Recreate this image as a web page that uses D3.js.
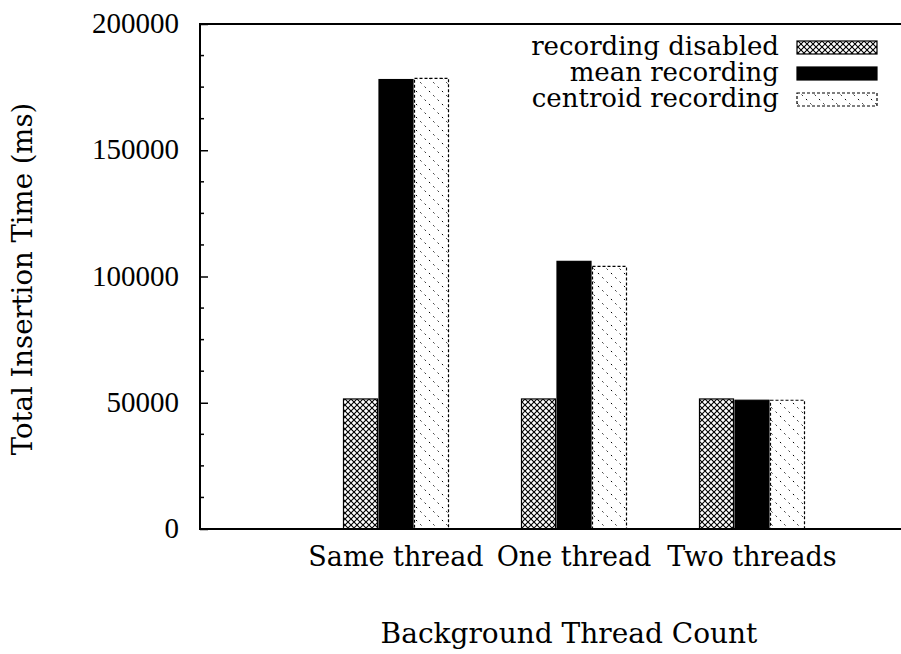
<!DOCTYPE html>
<html>
<head>
<meta charset="utf-8">
<script src="https://cdnjs.cloudflare.com/ajax/libs/d3/7.8.5/d3.min.js"></script>
<style>
  body { margin: 0; background: #fff; }
  text { font-family: "DejaVu Serif", "Liberation Serif", serif; fill: #000; }
  .num { font-family: "Liberation Serif", "DejaVu Serif", serif; }
</style>
</head>
<body>
<script>
// data
var categories = ["Same thread", "One thread", "Two threads"];
var seriesNames = ["recording disabled", "mean recording", "centroid recording"];
var disabled = [51500, 51500, 51500];
var mean = [178000, 106000, 51000];
var centroid = [178500, 104000, 51000];
var yTicks = [0, 50000, 100000, 150000, 200000];

var series = [disabled, mean, centroid];

var width = 901, height = 654;
var plotL = 200, plotR = 901, plotT = 24, plotB = 529;

var svg = d3.select("body").append("svg")
    .attr("width", width)
    .attr("height", height);

var defs = svg.append("defs");

// crosshatch pattern
var cross = defs.append("pattern")
    .attr("id", "cross")
    .attr("patternUnits", "userSpaceOnUse")
    .attr("width", 6).attr("height", 6);
cross.append("rect").attr("width", 6).attr("height", 6).attr("fill", "#fff");
cross.append("path")
    .attr("d", "M0,0L6,6M6,0L0,6")
    .attr("stroke", "#000").attr("stroke-width", 1.1);

// sparse dotted diagonal
var diag = defs.append("pattern")
    .attr("id", "diag")
    .attr("patternUnits", "userSpaceOnUse")
    .attr("width", 13).attr("height", 13);
diag.append("rect").attr("width", 13).attr("height", 13).attr("fill", "#fff");
diag.append("path")
    .attr("d", "M0,0L13,13M-6.5,6.5L6.5,19.5M6.5,-6.5L19.5,6.5")
    .attr("stroke", "#000").attr("stroke-width", 1)
    .attr("stroke-dasharray", "1.6,4.5");

var fills = ["url(#cross)", "#000", "url(#diag)"];
var dashes = [null, null, "3,2"];

var y = d3.scaleLinear().domain([0, 200000]).range([plotB, plotT]);
var x = d3.scaleLinear().domain([0, 1]).range([396, 574]);
var barW = 34, step = 35.5;

// bars
series.forEach(function(vals, s) {
  svg.append("g").selectAll("rect")
    .data(vals)
    .enter().append("rect")
      .attr("x", function(d, i) { return x(i) + (s - 1) * step - barW / 2; })
      .attr("y", function(d) { return y(d); })
      .attr("width", barW)
      .attr("height", function(d) { return plotB - y(d); })
      .attr("fill", fills[s])
      .attr("stroke", "#000")
      .attr("stroke-width", 1.2)
      .attr("stroke-dasharray", dashes[s]);
});

// frame: left, top, bottom
svg.append("path")
    .attr("d", "M" + plotR + "," + plotT + "H" + plotL + "V" + plotB + "H" + plotR)
    .attr("fill", "none").attr("stroke", "#000").attr("stroke-width", 2);

// y axis ticks
var yAxis = d3.axisRight(y).tickValues(yTicks).tickSize(8).tickFormat("");
svg.append("g").attr("transform", "translate(" + plotL + ",0)").call(yAxis)
    .call(function(g) { g.select(".domain").remove(); })
    .selectAll("line").attr("stroke-width", 1.5);
var minor = d3.range(0, 200001, 12500).filter(function(v) { return v % 50000 !== 0; });
svg.append("g").selectAll("line").data(minor).enter().append("line")
    .attr("x1", plotL).attr("x2", plotL + 4)
    .attr("y1", function(d) { return y(d); }).attr("y2", function(d) { return y(d); })
    .attr("stroke", "#000").attr("stroke-width", 1.5);

svg.append("g").selectAll("text").data(yTicks).enter().append("text")
    .attr("class", "num")
    .attr("x", 179)
    .attr("y", function(d) { return y(d) + 9; })
    .attr("text-anchor", "end")
    .style("font-size", "29px")
    .text(function(d) { return d; });

// category labels
svg.append("g").selectAll("text").data(categories).enter().append("text")
    .attr("x", function(d, i) { return x(i); })
    .attr("y", 566)
    .attr("text-anchor", "middle")
    .style("font-size", "27px")
    .text(function(d) { return d; });

// axis titles
svg.append("text")
    .attr("x", 569).attr("y", 643)
    .attr("text-anchor", "middle")
    .style("font-size", "28px")
    .text("Background Thread Count");

svg.append("text")
    .attr("transform", "translate(32,279) rotate(-90)")
    .attr("text-anchor", "middle")
    .style("font-size", "27.5px")
    .text("Total Insertion Time (ms)");

// legend
var legend = svg.append("g").selectAll("g").data(seriesNames).enter().append("g")
    .attr("transform", function(d, i) { return "translate(0," + (47 + i * 26) + ")"; });
legend.append("text")
    .attr("x", 779).attr("y", 8)
    .attr("text-anchor", "end")
    .style("font-size", "26px")
    .text(function(d) { return d; });
legend.append("rect")
    .attr("x", 797).attr("y", -6).attr("width", 80).attr("height", 13)
    .attr("fill", function(d, i) { return fills[i]; })
    .attr("stroke", "#000").attr("stroke-width", 1.2)
    .attr("stroke-dasharray", function(d, i) { return dashes[i]; });
</script>
</body>
</html>
